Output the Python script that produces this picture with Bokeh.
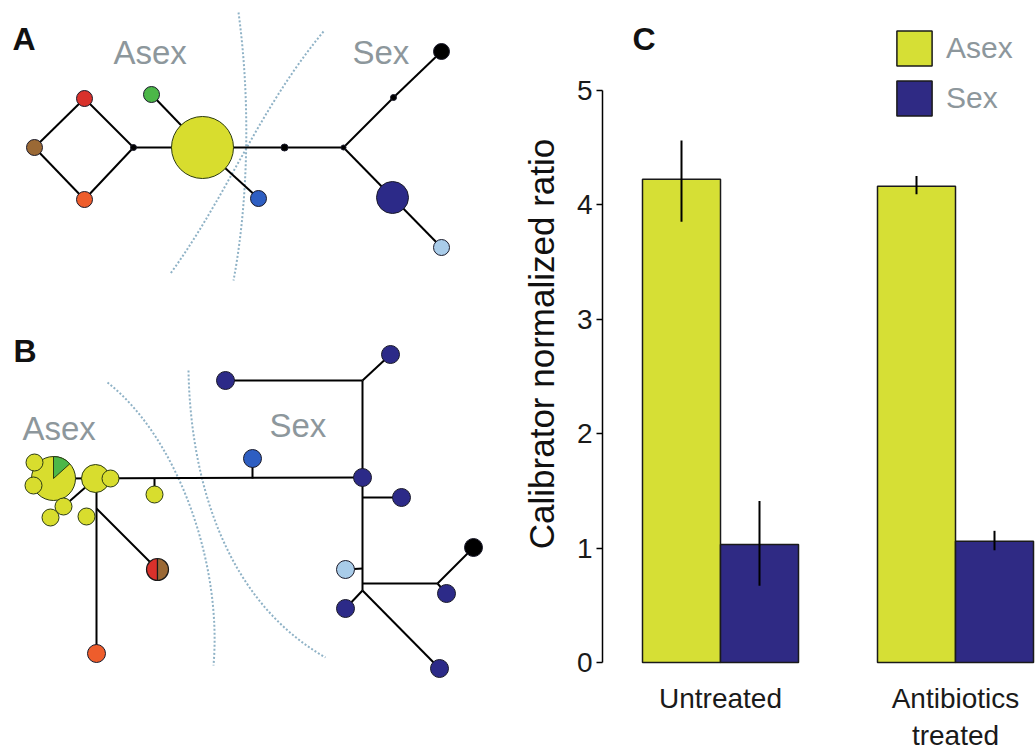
from bokeh.plotting import figure
from bokeh.models import Range1d, FixedTicker, Label, Legend, LegendItem
from bokeh.layouts import row
from bokeh.embed import file_html
from bokeh.resources import INLINE
from bokeh.core.properties import value

FONT = "Liberation Sans"

# ---------------- Panel C data ----------------
groups = ["Untreated", "Antibiotics\ntreated"]
group_pos = [0, 1]
asex_mean = [4.22, 4.16]
asex_lo = [3.85, 4.09]
asex_hi = [4.56, 4.25]
sex_mean = [1.03, 1.06]
sex_lo = [0.67, 0.98]
sex_hi = [1.41, 1.15]
y_ticks = [0, 1, 2, 3, 4, 5]
y_label = "Calibrator normalized ratio"

# ---------------- Panel A network ----------------
A_names = ["yellow", "green", "red", "brown", "orange", "blue", "navy", "lightblue", "black",
           "j1", "j2", "j3", "j4"]
A_x = [202, 151, 84, 34, 84, 258, 392, 441, 441, 133, 284, 343, 393]
A_y = [147, 94, 98, 147, 199, 198, 197, 247, 51, 147, 147, 147, 97]
A_freq = [62, 16, 16, 16, 16, 16, 32, 16, 16, 6, 7, 5, 6]
A_kind = ["yellow", "green", "red", "brown", "orange", "blue", "navy", "lightblue", "black",
          "black", "black", "black", "black"]
A_edges = [("brown", "red"), ("brown", "orange"), ("red", "j1"), ("orange", "j1"), ("j1", "yellow"),
           ("green", "yellow"), ("yellow", "blue"), ("yellow", "j2"), ("j2", "j3"), ("j3", "j4"),
           ("j4", "black"), ("j3", "navy"), ("navy", "lightblue")]
A_arc1 = [(238, 12), (250, 100), (248, 200), (233, 280)]
A_arc2 = [(323, 31), (257, 111), (228, 193), (170, 273)]

# ---------------- Panel B network ----------------
B_names = ["Y0", "Y1", "Y2", "Y3", "Y4", "Y5", "Y6", "Y7", "Y8", "O", "MB",
           "N0", "N1", "N2", "N3", "N4", "N5", "N6", "LB", "K"]
B_x = [53, 34, 33, 63, 50, 86, 95, 110, 154, 96, 252, 362, 225, 390, 401, 446, 345, 439, 345, 473]
B_y = [478, 462, 485, 506, 517, 516, 478, 478, 494, 653, 458, 477, 380, 354, 497, 593, 608, 668, 569, 547]
B_freq = [44, 17, 17, 17, 17, 17, 28, 17, 17, 18, 18, 18, 18, 18, 18, 18, 18, 18, 18, 18]
B_kind = ["yellow"] * 9 + ["orange", "blue"] + ["navy"] * 7 + ["lightblue", "black"]
B_split_x = [157]
B_split_y = [569]
B_split_d = [22]
B_junc_names = ["j1", "j2", "j3", "j4", "j5", "j6", "j7", "j8", "j9", "j10", "RB"]
B_junc_x = [96, 154, 252, 362, 362, 437, 362, 96, 362, 362, 157]
B_junc_y = [478, 478, 478, 380, 583, 583, 590, 508, 568, 497, 569]
B_edges = [("Y0", "N0"), ("j2", "Y8"), ("j3", "MB"), ("j1", "O"), ("j8", "RB"), ("Y3", "Y6"),
           ("j4", "j7"), ("N1", "j4"), ("j4", "N2"), ("j10", "N3"), ("LB", "j9"), ("j5", "j6"),
           ("j6", "K"), ("j6", "N4"), ("j7", "N5"), ("j7", "N6")]
B_arc1 = [(107, 382), (175, 435), (222, 560), (213, 665)]
B_arc2 = [(188, 370), (190, 480), (225, 600), (325, 657)]

PAL = {"yellow": "#d8dd2e", "green": "#4cb748", "red": "#d9312b", "brown": "#9b6935",
       "orange": "#ee5d2c", "blue": "#2e5ec2", "navy": "#2c2a88", "lightblue": "#a9cce9",
       "black": "#000000"}
BAR_YEL = "#d6df35"
BAR_NAVY = "#2f2a84"
GRAY = "#8d979c"
ARC = "#8fb2c6"

W, H = 1035, 752
LEFT_W = 560

# ================= left figure (A + B, and the title of C's y axis) =================
pL = figure(width=LEFT_W, height=H, x_range=Range1d(0, LEFT_W), y_range=Range1d(H, 0),
            output_backend="svg", toolbar_location=None, x_axis_location=None, y_axis_location=None,
            min_border=0, min_border_left=0, min_border_right=0, min_border_top=0, min_border_bottom=0)
pL.grid.visible = False
pL.outline_line_color = None


def draw_edges(names, xs, ys, edges, jnames=(), jx=(), jy=()):
    pos = {n: (x, y) for n, x, y in zip(names, xs, ys)}
    pos.update({n: (x, y) for n, x, y in zip(jnames, jx, jy)})
    pL.segment(x0=[pos[a][0] for a, b in edges], y0=[pos[a][1] for a, b in edges],
               x1=[pos[b][0] for a, b in edges], y1=[pos[b][1] for a, b in edges],
               line_color="black", line_width=2)


def draw_nodes(xs, ys, sizes, kinds):
    pL.scatter(x=xs, y=ys, size=sizes, marker="circle",
               fill_color=[PAL[k] for k in kinds],
               line_color=["#2b3a12" if k == "yellow" else "#1a1a2a" for k in kinds],
               line_width=1)


def draw_arc(pts):
    (sx, sy), (c1x, c1y), (c2x, c2y), (ex, ey) = pts
    pL.bezier(x0=[sx], y0=[sy], x1=[ex], y1=[ey], cx0=[c1x], cy0=[c1y], cx1=[c2x], cy1=[c2y],
              line_color=ARC, line_width=2, line_dash="2 2")


# Panel A
draw_arc(A_arc1)
draw_arc(A_arc2)
draw_edges(A_names, A_x, A_y, A_edges)
draw_nodes(A_x, A_y, A_freq, A_kind)

# Panel B
draw_arc(B_arc1)
draw_arc(B_arc2)
draw_edges(B_names, B_x, B_y, B_edges, B_junc_names, B_junc_x, B_junc_y)
draw_nodes(B_x[:1], B_y[:1], B_freq[:1], B_kind[:1])
pL.wedge(x=B_x[:1], y=B_y[:1], radius=B_freq[0] / 2, radius_units="screen",
         start_angle=42, end_angle=90, start_angle_units="deg", end_angle_units="deg",
         fill_color=PAL["green"], line_color="#2b3a12", line_width=1)
draw_nodes(B_x[1:], B_y[1:], B_freq[1:], B_kind[1:])
pL.wedge(x=B_split_x, y=B_split_y, radius=B_split_d[0] / 2, radius_units="screen",
         start_angle=90, end_angle=270, start_angle_units="deg", end_angle_units="deg",
         fill_color=PAL["red"], line_color="#1a1a1a", line_width=1.2)
pL.wedge(x=B_split_x, y=B_split_y, radius=B_split_d[0] / 2, radius_units="screen",
         start_angle=-90, end_angle=90, start_angle_units="deg", end_angle_units="deg",
         fill_color=PAL["brown"], line_color="#1a1a1a", line_width=1.2)

# Panel texts
pL.text(x=[12, 13], y=[38, 350], text=["A", "B"], text_font=value(FONT), text_font_style="bold",
        text_font_size="32px", text_color="#111111", text_baseline="alphabetic")
pL.text(x=[113, 352, 22, 269], y=[52, 52, 428, 425], text=["Asex", "Sex", "Asex", "Sex"],
        text_font=value(FONT), text_font_size="33px", text_color=GRAY, text_baseline="alphabetic")

# y-axis title of panel C (rotated), centred on C's plotting region
pL.text(x=[541], y=[343.5], text=[y_label], angle=90, angle_units="deg",
        text_font=value(FONT), text_font_size="35px", text_color="#111111",
        text_align="center", text_baseline="middle")

# ================= Panel C =================
px_per_unit_x = 235.0
px_per_unit_y = 114.5
frame_left_px, frame_right_px = 602, W
zero_x_px = 720
frame_top_px, frame_bottom_px = 0, H
zero_y_px = 662
bw = 78 / px_per_unit_x

xs = (frame_left_px - zero_x_px) / px_per_unit_x
xe = (frame_right_px - zero_x_px) / px_per_unit_x
ys = -(frame_bottom_px - zero_y_px) / px_per_unit_y
ye = (zero_y_px - frame_top_px) / px_per_unit_y

pC = figure(width=W - LEFT_W, height=H, x_range=Range1d(xs, xe), y_range=Range1d(ys, ye),
            output_backend="svg", toolbar_location=None, x_axis_location=None,
            min_border_left=frame_left_px - LEFT_W, min_border_right=0, min_border_top=0,
            min_border_bottom=0)
pC.grid.visible = False
pC.outline_line_color = None

x_asex = [g - bw / 2 for g in group_pos]
x_sex = [g + bw / 2 for g in group_pos]
r_asex = pC.vbar(x=x_asex, top=asex_mean, bottom=0, width=bw, fill_color=BAR_YEL,
                 line_color="#1a1a1a", line_width=1.5)
r_sex = pC.vbar(x=x_sex, top=sex_mean, bottom=0, width=bw, fill_color=BAR_NAVY,
                line_color="#1a1a1a", line_width=1.5)
pC.segment(x0=x_asex, x1=x_asex, y0=asex_lo, y1=asex_hi, line_color="black", line_width=2)
pC.segment(x0=x_sex, x1=x_sex, y0=sex_lo, y1=sex_hi, line_color="black", line_width=2)

yax = pC.yaxis[0]
yax.ticker = FixedTicker(ticks=y_ticks)
yax.bounds = (0, 5)
yax.axis_line_width = 1.5
yax.axis_line_color = "black"
yax.major_tick_in = 0
yax.major_tick_out = 6
yax.major_tick_line_width = 1.5
yax.minor_tick_line_color = None
yax.major_label_standoff = 4
yax.major_label_text_font = FONT
yax.major_label_text_font_size = "28px"
yax.major_label_text_color = "#1a1a1a"

# category labels under the groups (x from the group positions)
pC.text(x=group_pos, y=[-20 / px_per_unit_y] * len(group_pos), text=groups,
        text_font=value(FONT), text_font_size="28px", text_color="#1a1a1a",
        text_align="center", text_baseline="top", text_line_height=1.2)

legend = Legend(items=[LegendItem(label="Asex", renderers=[r_asex]),
                       LegendItem(label="Sex", renderers=[r_sex])],
                location=(290, 632), glyph_width=44, glyph_height=44, spacing=6,
                label_standoff=10, padding=6, margin=0,
                label_text_font=FONT, label_text_font_size="30px", label_text_color=GRAY,
                border_line_color=None, background_fill_alpha=0)
pC.add_layout(legend)

pC.add_layout(Label(x=(632 - zero_x_px) / px_per_unit_x, y=(zero_y_px - 38) / px_per_unit_y,
                    text="C", text_font=FONT, text_font_style="bold", text_font_size="32px",
                    text_color="#111111", text_baseline="alphabetic"))

layout = row(pL, pC)
open("out.html", "w").write(file_html(layout, INLINE))
